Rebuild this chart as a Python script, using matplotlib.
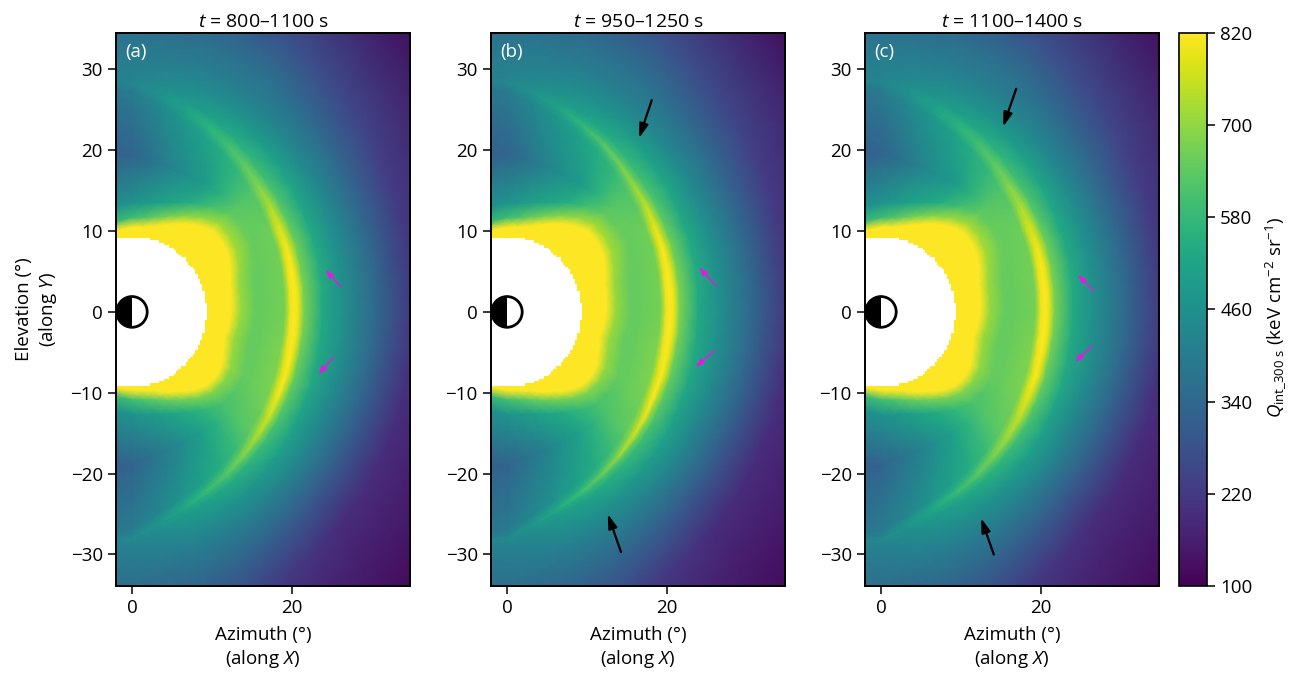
import numpy as np
import matplotlib
matplotlib.use('Agg')
import matplotlib.pyplot as plt
from matplotlib.colors import ListedColormap
from matplotlib.patches import Circle, Wedge

plt.rcParams['font.family'] = ['Open Sans', 'DejaVu Sans']
plt.rcParams['mathtext.fontset'] = 'custom'
plt.rcParams['mathtext.rm'] = 'Open Sans'
plt.rcParams['mathtext.it'] = 'Open Sans:italic'
plt.rcParams['font.size'] = 12

titles = ['$t$ = 800–1100 s', '$t$ = 950–1250 s', '$t$ = 1100–1400 s']
letters = ['(a)', '(b)', '(c)']
cbar_ticks = [100, 220, 340, 460, 580, 700, 820]

# values, rows are angles around the origin (deg)
angles = [110, 90, 82.5, 75, 67.5, 60, 52.5, 45, 37.5, 30, 22.5, 15, 7.5, 0,
          -7.5, -15, -22.5, -30, -37.5, -45, -52.5, -60, -67.5, -75, -82.5, -90, -110]
yellow_r = [10.4, 10.5, 10.6, 11.0, 11.7, 12.6, 13.5, 14.2, 14.2, 13.9, 13.3, 12.7, 12.5, 12.4,
            12.2, 12.0, 12.4, 13.0, 13.2, 13.0, 12.3, 11.4, 10.7, 10.1, 9.8, 9.7, 9.7]

arc_r_a = [31.5, 28.4, 27.0, 25.9, 24.8, 23.9, 23.0, 22.2, 21.7, 21.2, 20.9, 20.6, 20.4, 20.3,
           20.3, 20.4, 20.7, 21.0, 21.5, 22.0, 22.6, 23.3, 24.1, 25.0, 26.3, 28.0, 31.5]
arc_r_b = [31.5, 28.5, 27.1, 26.0, 24.9, 24.0, 23.1, 22.3, 21.8, 21.3, 21.0, 20.7, 20.5, 20.4,
           20.4, 20.5, 20.8, 21.1, 21.6, 22.1, 22.7, 23.4, 24.2, 25.1, 26.4, 28.1, 31.5]
arc_r_c = [31.5, 28.6, 27.2, 26.1, 25.0, 24.1, 23.2, 22.4, 21.9, 21.4, 21.1, 20.8, 20.6, 20.5,
           20.5, 20.6, 20.9, 21.2, 21.7, 22.2, 22.8, 23.5, 24.3, 25.2, 26.5, 28.2, 31.5]

arc_peak_a = [410, 425, 465, 510, 560, 600, 640, 680, 730, 780, 810, 830, 840, 840,
              840, 840, 830, 810, 770, 730, 680, 630, 585, 530, 475, 440, 410]
arc_peak_b = [410, 430, 475, 525, 580, 630, 670, 710, 750, 790, 820, 840, 850, 850,
              850, 850, 845, 830, 800, 760, 710, 650, 600, 545, 485, 445, 415]
arc_peak_c = [410, 425, 465, 510, 560, 600, 640, 680, 725, 770, 805, 830, 840, 840,
              840, 830, 815, 790, 755, 720, 675, 630, 585, 530, 475, 440, 410]

# columns: yellow edge, +1.2, +3, halfway, arc-1.2, arc-0.5
inner_q = [
    [830, 560, 450, 310, 370, 390],
    [830, 590, 470, 330, 395, 415],
    [830, 620, 490, 370, 435, 455],
    [830, 650, 510, 415, 480, 505],
    [830, 665, 525, 455, 510, 545],
    [830, 680, 550, 490, 545, 585],
    [830, 700, 600, 560, 580, 620],
    [830, 720, 640, 630, 620, 660],
    [830, 720, 655, 650, 640, 700],
    [830, 720, 660, 650, 660, 750],
    [830, 715, 655, 650, 665, 770],
    [830, 710, 650, 650, 670, 790],
    [830, 710, 650, 650, 670, 800],
    [830, 710, 650, 650, 670, 800],
    [830, 710, 650, 650, 675, 800],
    [830, 710, 650, 650, 680, 790],
    [830, 705, 650, 650, 680, 780],
    [830, 700, 650, 650, 675, 765],
    [830, 690, 630, 635, 660, 725],
    [830, 680, 610, 620, 640, 690],
    [830, 670, 575, 560, 590, 640],
    [830, 660, 540, 500, 545, 590],
    [830, 650, 520, 455, 510, 550],
    [830, 640, 500, 405, 470, 510],
    [830, 620, 485, 370, 430, 460],
    [830, 600, 470, 330, 395, 420],
    [830, 560, 450, 310, 365, 390],
]
# columns: arc+0.5, +1.2, +3.5, +6, +10, +15, +30
outer_q = [
    [405, 400, 385, 360, 330, 300, 200],
    [420, 415, 395, 365, 330, 300, 200],
    [460, 445, 415, 385, 340, 295, 175],
    [505, 480, 435, 400, 350, 290, 150],
    [550, 510, 455, 410, 355, 285, 135],
    [585, 540, 475, 420, 360, 280, 120],
    [620, 570, 495, 430, 355, 270, 110],
    [655, 600, 515, 440, 350, 260, 100],
    [690, 620, 525, 445, 345, 245, 90],
    [730, 640, 530, 450, 340, 230, 80],
    [760, 660, 535, 455, 342, 222, 75],
    [785, 670, 540, 460, 345, 215, 70],
    [795, 675, 540, 460, 348, 212, 65],
    [795, 675, 535, 460, 350, 210, 60],
    [795, 670, 535, 460, 345, 205, 60],
    [785, 660, 535, 460, 340, 200, 60],
    [765, 650, 530, 450, 330, 195, 65],
    [735, 635, 520, 440, 320, 190, 70],
    [695, 610, 510, 435, 315, 190, 75],
    [660, 590, 500, 430, 310, 190, 80],
    [625, 565, 485, 420, 315, 205, 95],
    [590, 540, 470, 410, 320, 220, 110],
    [550, 510, 455, 400, 325, 245, 125],
    [515, 485, 440, 390, 330, 270, 140],
    [465, 445, 410, 375, 325, 275, 165],
    [425, 410, 385, 360, 320, 280, 190],
    [400, 395, 375, 350, 320, 280, 190],
]

# arrows as (tail x, tail y, head x, head y)
pink_arrows = [
    [(26.1, 3.1, 24.2, 5.2), (25.2, -5.6, 23.3, -7.7)],
    [(26.1, 3.3, 24.0, 5.5), (25.9, -4.8, 23.6, -6.8)],
    [(26.6, 2.6, 24.6, 4.6), (26.4, -4.2, 24.25, -6.2)],
]
black_arrows = [
    [],
    [(18.1, 26.2, 16.5, 21.5), (14.25, -29.7, 12.6, -25.0)],
    [(16.9, 27.6, 15.25, 22.9), (14.1, -30.0, 12.5, -25.5)],
]

arc_r = [arc_r_a, arc_r_b, arc_r_c]
arc_peak = [arc_peak_a, arc_peak_b, arc_peak_c]
W, H = 1299, 675


def px_axes(fig, left, right, top, bottom):
    return fig.add_axes([left / W, 1 - bottom / H, (right - left) / W, (bottom - top) / H])


fig = plt.figure(figsize=(W / 100, H / 100), dpi=100)
panel_px = [(116, 410), (491, 785), (865, 1159)]
th = np.radians(angles)
yr = np.array(yellow_r)

# pixelated white hole around the origin
xe = np.arange(-2.0, 10.01, 0.3)
ye = np.arange(-10.05, 10.06, 0.3)
xc, yc = np.meshgrid((xe[:-1] + xe[1:]) / 2, (ye[:-1] + ye[1:]) / 2)
hole = np.ma.masked_where(np.hypot(xc, yc) > 9.3, np.ones_like(xc))

for i in range(3):
    ax = px_axes(fig, panel_px[i][0], panel_px[i][1], 33, 586)
    ar = np.array(arc_r[i])
    knots = np.column_stack([
        np.full_like(yr, 8.5), yr, yr + 1.2, yr + 3, (yr + ar) / 2, ar - 1.2, ar - 0.5, ar,
        ar + 0.5, ar + 1.2, ar + 3.5, ar + 6, ar + 10, ar + 15, ar + 30,
    ])
    q = np.column_stack([np.full_like(yr, 900), np.array(inner_q), arc_peak[i], np.array(outer_q)])
    x = knots * np.cos(th)[:, None]
    y = knots * np.sin(th)[:, None]
    mesh = ax.pcolormesh(x, y, q, shading='gouraud', cmap='viridis', vmin=100, vmax=820)
    ax.pcolormesh(xe, ye, hole, cmap=ListedColormap(['white']), zorder=2)

    ax.add_patch(Circle((0, 0), 1.9, fc='white', ec='none', zorder=3))
    ax.add_patch(Wedge((0, 0), 1.9, 90, 270, fc='black', ec='none', zorder=3))
    ax.add_patch(Circle((0, 0), 1.9, fc='none', ec='black', lw=2, zorder=4))

    for a in pink_arrows[i]:
        ax.annotate('', xy=(a[2], a[3]), xytext=(a[0], a[1]), zorder=5,
                    arrowprops=dict(arrowstyle='-|>,head_length=0.4,head_width=0.14', color='#e619e0',
                                    lw=1.1, shrinkA=0, shrinkB=0))
    for a in black_arrows[i]:
        ax.annotate('', xy=(a[2], a[3]), xytext=(a[0], a[1]), zorder=5,
                    arrowprops=dict(arrowstyle='-|>,head_length=0.7,head_width=0.22', color='black',
                                    lw=1.6, shrinkA=0, shrinkB=0))

    ax.set_xlim(-2, 34.75)
    ax.set_ylim(-33.9, 34.5)
    ax.set_xticks([0, 20])
    ax.set_yticks([-30, -20, -10, 0, 10, 20, 30])
    ax.tick_params(length=6, width=1.1, labelsize=13.5)
    for s in ax.spines.values():
        s.set_linewidth(1.4)
    ax.set_title(titles[i], fontsize=14, pad=4)
    ax.set_xlabel('Azimuth (°)\n(along $X$)', fontsize=13.5, labelpad=6, linespacing=1.3)
    ax.text(0.03, 0.965, letters[i], transform=ax.transAxes, color='white', fontsize=13.5, va='center', zorder=6)
    if i == 0:
        ax.set_ylabel('Elevation (°)\n(along $Y$)', fontsize=13.5, labelpad=8, linespacing=1.3)

cax = px_axes(fig, 1179, 1207, 33, 586)
cb = fig.colorbar(mesh, cax=cax, ticks=cbar_ticks)
cb.ax.tick_params(length=6, width=1.1, labelsize=13.5)
cb.outline.set_linewidth(1.2)
cb.set_label(r'$Q_{\mathrm{int\_300\ s}}$ (keV cm$^{-2}$ sr$^{-1}$)', fontsize=13.5, labelpad=8, y=0.485)

fig.savefig('out.png', dpi=100)
